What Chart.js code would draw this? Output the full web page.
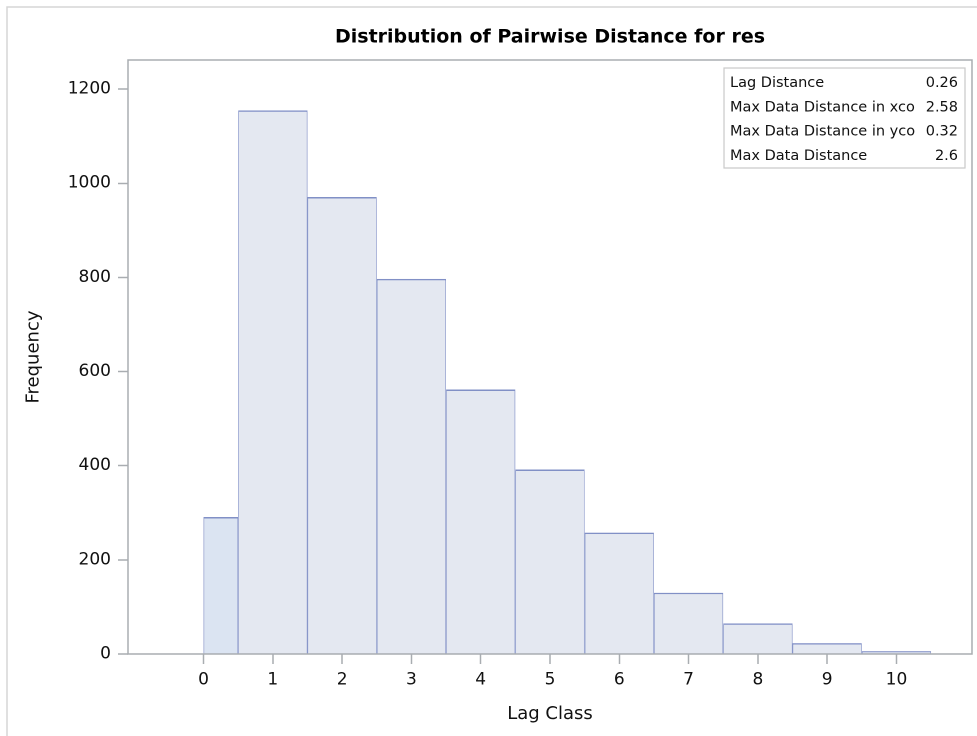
<!DOCTYPE html>
<html>
<head>
<meta charset="utf-8">
<title>Distribution of Pairwise Distance for res</title>
<script src="https://cdn.jsdelivr.net/npm/chart.js@4.4.1/dist/chart.umd.min.js"></script>
<style>
  html, body { margin: 0; padding: 0; background: #fff; }
  canvas { display: block; }
</style>
</head>
<body>
<div style="width:977px;height:736px"><canvas id="myChart"></canvas></div>
<script>
// lag classes and pair counts
const lagClass = [0, 1, 2, 3, 4, 5, 6, 7, 8, 9, 10];
const frequency = [291, 1155, 971, 797, 562, 392, 258, 130, 65, 23, 6];

const xTicks = [0, 1, 2, 3, 4, 5, 6, 7, 8, 9, 10];
const yTicks = [0, 200, 400, 600, 800, 1000, 1200];

const statLabels = ['Lag Distance', 'Max Data Distance in xco', 'Max Data Distance in yco', 'Max Data Distance'];
const statValues = ['0.26', '2.58', '0.32', '2.6'];

Chart.defaults.font.family = '"DejaVu Sans", sans-serif';
Chart.defaults.color = '#111';

const frameColor = '#a9adb1';
const barLine = '#8190c6';

// class 0 only covers half a lag (0 .. 0.5), so it is centred at 0.25
let firstBar = [{ x: lagClass[0] + 0.25, y: frequency[0] }];
let otherBars = [];
for (let i = 1; i < lagClass.length; i++) {
    otherBars.push({ x: lagClass[i], y: frequency[i] });
}

// plot frame, outer border and the stats inset
const extras = {
    id: 'extras',
    afterDraw(chart) {
        const c = chart.ctx;
        const a = chart.chartArea;
        c.save();

        c.strokeStyle = '#d6d6d6';
        c.lineWidth = 1.5;
        c.beginPath();
        c.moveTo(7, chart.height);
        c.lineTo(7, 7);
        c.lineTo(chart.width, 7);
        c.stroke();

        c.strokeStyle = frameColor;
        c.lineWidth = 1.5;
        c.strokeRect(a.left, a.top, a.right - a.left, a.bottom - a.top);

        const boxW = 241, boxH = 100;
        const bx = a.right - 7 - boxW;
        const by = a.top + 8;
        c.strokeStyle = '#c9c9c9';
        c.lineWidth = 1.2;
        c.strokeRect(bx, by, boxW, boxH);

        c.fillStyle = '#111';
        c.font = '14.5px "DejaVu Sans", sans-serif';
        c.textBaseline = 'alphabetic';
        for (let i = 0; i < statLabels.length; i++) {
            const ty = by + 19 + i * 24.3;
            c.textAlign = 'left';
            c.fillText(statLabels[i], bx + 6, ty);
            c.textAlign = 'right';
            c.fillText(statValues[i], bx + boxW - 7, ty);
        }
        c.restore();
    }
};

const ctx = document.getElementById('myChart');

const myChart = new Chart(ctx, {
    type: 'bar',
    data: {
        datasets: [{
            label: 'Frequency',
            data: firstBar,
            backgroundColor: '#dbe4f2',
            borderColor: barLine,
            borderWidth: { top: 1.5, left: 0.8, right: 0.8, bottom: 0 },
            inflateAmount: 0,
            grouped: false,
            categoryPercentage: 1,
            barPercentage: 2 / 3
        }, {
            label: 'Frequency',
            data: otherBars,
            backgroundColor: '#e4e8f1',
            borderColor: barLine,
            borderWidth: { top: 1.5, left: 0.8, right: 0.8, bottom: 0 },
            inflateAmount: 0,
            grouped: false,
            categoryPercentage: 1,
            barPercentage: 4 / 3
        }]
    },
    options: {
        responsive: true,
        maintainAspectRatio: false,
        devicePixelRatio: 2,
        animation: false,
        layout: {
            padding: { left: 0, right: 5, top: 0, bottom: 0 }
        },
        plugins: {
            legend: { display: false },
            tooltip: { enabled: false },
            title: {
                display: true,
                text: 'Distribution of Pairwise Distance for res',
                fullSize: false,
                color: '#000',
                font: { size: 19, weight: 'bold' },
                padding: { top: 26, bottom: 11.2 }
            }
        },
        scales: {
            x: {
                type: 'linear',
                min: -1.09,
                max: 11.09,
                offset: false,
                afterBuildTicks: (axis) => {
                    axis.ticks = xTicks.map(v => ({ value: v }));
                },
                afterFit: (axis) => {
                    axis.height = 82;
                },
                grid: {
                    offset: false,
                    drawOnChartArea: false,
                    tickLength: 10,
                    tickWidth: 1.5,
                    color: frameColor
                },
                border: { display: false },
                ticks: {
                    font: { size: 17 },
                    padding: 6,
                    maxRotation: 0,
                    autoSkip: false,
                    callback: (v) => String(v)
                },
                title: {
                    display: true,
                    text: 'Lag Class',
                    font: { size: 18 },
                    padding: { top: 0, bottom: 11 }
                }
            },
            y: {
                min: 0,
                max: 1262,
                afterBuildTicks: (axis) => {
                    axis.ticks = yTicks.map(v => ({ value: v }));
                },
                afterFit: (axis) => {
                    axis.width = 128;
                },
                grid: {
                    drawOnChartArea: false,
                    tickLength: 10,
                    tickWidth: 1.5,
                    color: frameColor
                },
                border: { display: false },
                ticks: {
                    font: { size: 17 },
                    padding: 7,
                    callback: (v) => String(v)
                },
                title: {
                    display: true,
                    text: 'Frequency',
                    font: { size: 18 },
                    padding: { top: 23, bottom: 0 }
                }
            }
        }
    },
    plugins: [extras]
});
</script>
</body>
</html>
